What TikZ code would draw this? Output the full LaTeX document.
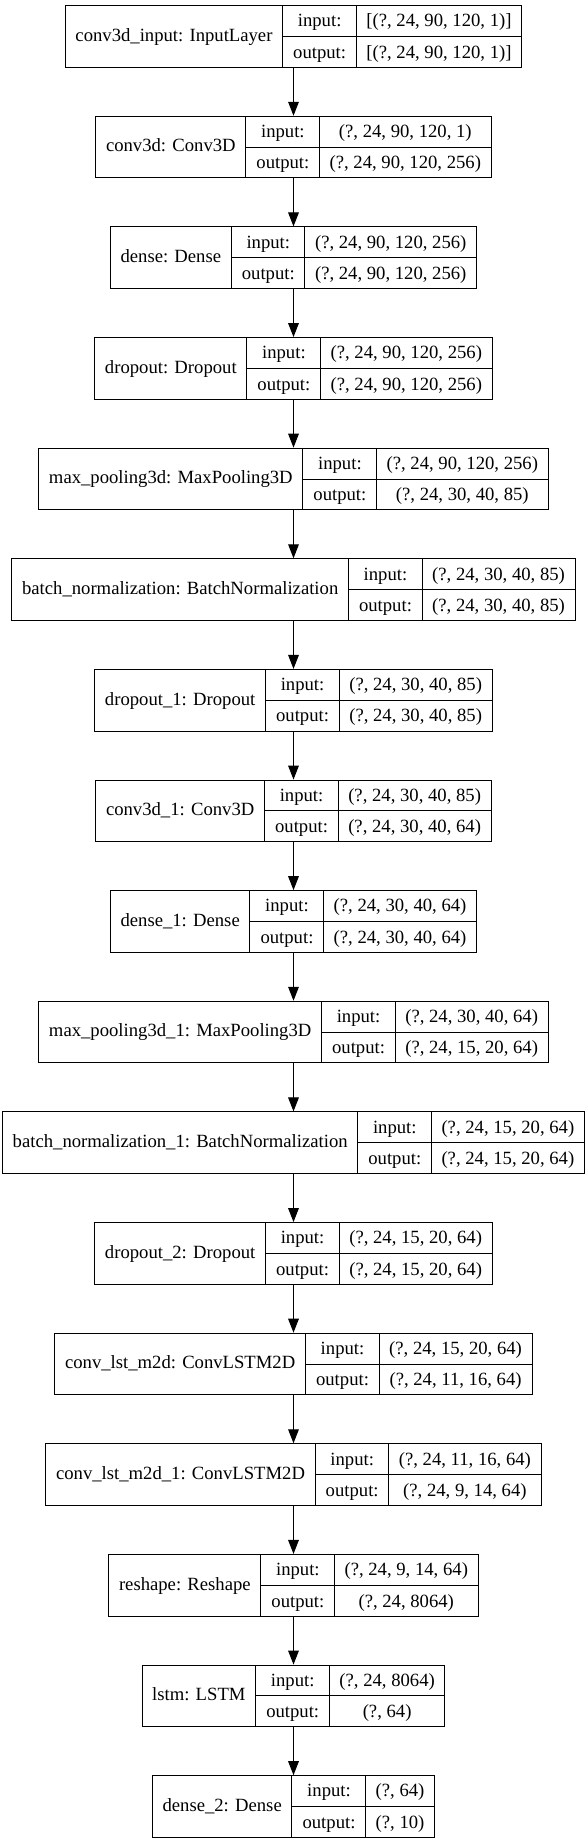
\documentclass[tikz,border=0pt]{standalone}
\usepackage{fontspec}
\setmainfont{Liberation Serif}
\usetikzlibrary{arrows.meta}

\setlength{\tabcolsep}{7.6bp}
\setlength{\arrayrulewidth}{0.75bp}
% one keras record: name | input/output | shapes
\newcommand{\keraslayer}[3]{%
  \begin{tabular}{c|@{}c@{}}
    #1 & \begin{tabular}{c|c}
           input: & #2\\ \hline
           output: & #3
         \end{tabular}
  \end{tabular}}

\begin{document}
\begin{tikzpicture}[x=0.75bp,y=-0.75bp,
  layer/.style={draw,line width=0.75bp,inner sep=0pt,
    font=\fontsize{14bp}{22.75bp}\selectfont},
  flow/.style={-{Triangle[length=10.5bp,width=8bp]},line width=0.75bp}]
\useasboundingbox (0,0) rectangle (587,1844);

\node[layer] (input) at (293.5,36.5) {\keraslayer{conv3d\_input: InputLayer}{[(?, 24, 90, 120, 1)]}{[(?, 24, 90, 120, 1)]}};
\node[layer] (conv) at (293.5,147.1) {\keraslayer{conv3d: Conv3D}{(?, 24, 90, 120, 1)}{(?, 24, 90, 120, 256)}};
\node[layer] (dense) at (293.5,257.75) {\keraslayer{dense: Dense}{(?, 24, 90, 120, 256)}{(?, 24, 90, 120, 256)}};
\node[layer] (drop) at (293.5,368.4) {\keraslayer{dropout: Dropout}{(?, 24, 90, 120, 256)}{(?, 24, 90, 120, 256)}};
\node[layer] (pool) at (293.5,479) {\keraslayer{max\_pooling3d: MaxPooling3D}{(?, 24, 90, 120, 256)}{(?, 24, 30, 40, 85)}};
\node[layer] (bnorm) at (293.5,589.6) {\keraslayer{batch\_normalization: BatchNormalization}{(?, 24, 30, 40, 85)}{(?, 24, 30, 40, 85)}};
\node[layer] (drop1) at (293.5,700.25) {\keraslayer{dropout\_1: Dropout}{(?, 24, 30, 40, 85)}{(?, 24, 30, 40, 85)}};
\node[layer] (conv1) at (293.5,810.9) {\keraslayer{conv3d\_1: Conv3D}{(?, 24, 30, 40, 85)}{(?, 24, 30, 40, 64)}};
\node[layer] (dense1) at (293.5,921.5) {\keraslayer{dense\_1: Dense}{(?, 24, 30, 40, 64)}{(?, 24, 30, 40, 64)}};
\node[layer] (pool1) at (293.5,1032.1) {\keraslayer{max\_pooling3d\_1: MaxPooling3D}{(?, 24, 30, 40, 64)}{(?, 24, 15, 20, 64)}};
\node[layer] (bnorm1) at (293.5,1142.75) {\keraslayer{batch\_normalization\_1: BatchNormalization}{(?, 24, 15, 20, 64)}{(?, 24, 15, 20, 64)}};
\node[layer] (drop2) at (293.5,1253.4) {\keraslayer{dropout\_2: Dropout}{(?, 24, 15, 20, 64)}{(?, 24, 15, 20, 64)}};
\node[layer] (clstm) at (293.5,1364) {\keraslayer{conv\_lst\_m2d: ConvLSTM2D}{(?, 24, 15, 20, 64)}{(?, 24, 11, 16, 64)}};
\node[layer] (clstm1) at (293.5,1474.6) {\keraslayer{conv\_lst\_m2d\_1: ConvLSTM2D}{(?, 24, 11, 16, 64)}{(?, 24, 9, 14, 64)}};
\node[layer] (reshape) at (293.5,1585.25) {\keraslayer{reshape: Reshape}{(?, 24, 9, 14, 64)}{(?, 24, 8064)}};
\node[layer] (lstm) at (293.5,1695.9) {\keraslayer{lstm: LSTM}{(?, 24, 8064)}{(?, 64)}};
\node[layer] (dense2) at (293.5,1806.5) {\keraslayer{dense\_2: Dense}{(?, 64)}{(?, 10)}};

\draw[flow] (input) -- (conv);
\draw[flow] (conv) -- (dense);
\draw[flow] (dense) -- (drop);
\draw[flow] (drop) -- (pool);
\draw[flow] (pool) -- (bnorm);
\draw[flow] (bnorm) -- (drop1);
\draw[flow] (drop1) -- (conv1);
\draw[flow] (conv1) -- (dense1);
\draw[flow] (dense1) -- (pool1);
\draw[flow] (pool1) -- (bnorm1);
\draw[flow] (bnorm1) -- (drop2);
\draw[flow] (drop2) -- (clstm);
\draw[flow] (clstm) -- (clstm1);
\draw[flow] (clstm1) -- (reshape);
\draw[flow] (reshape) -- (lstm);
\draw[flow] (lstm) -- (dense2);
\end{tikzpicture}
\end{document}
